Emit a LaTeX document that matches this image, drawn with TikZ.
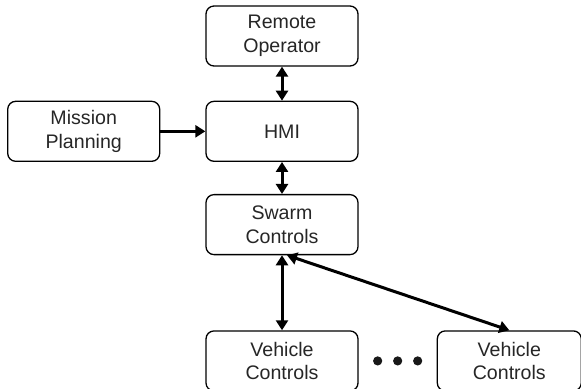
\documentclass[tikz,border=0pt]{standalone}
\usepackage{fontspec}
\setmainfont{Liberation Sans}
\usepackage{tikz}
\usetikzlibrary{arrows.meta,positioning,calc}

\begin{document}
\begin{tikzpicture}[
  node distance=17pt and 22.5pt, >=Triangle,
  block/.style={rectangle, draw, rounded corners=4pt, line width=0.65pt, minimum width=76pt, minimum height=30pt, align=center, text=black!85, font=\fontsize{9.8}{11.8}\selectfont},
  link/.style={line width=1.5pt, >={Triangle[length=5pt,width=6pt]}},
  dot/.style={circle, fill=black!90, inner sep=0pt, minimum size=4.6pt},
]
  \useasboundingbox (0,0) rectangle (290.5pt,-194pt);
  \node[block] (ro) at (141pt,-18pt) {Remote\\Operator};
  \node[block, below=of ro] (hmi) {HMI};
  \node[block, left=of hmi] (mission) {Mission\\Planning};
  \node[block, below=16pt of hmi] (swarm) {Swarm\\Controls};
  \node[block, below=37.5pt of swarm] (vc1) {Vehicle\\Controls};
  \node[block, minimum width=72pt, right=39pt of vc1] (vc2) {Vehicle\\Controls};
  \node[dot] (d2) at ($(vc1.east)!0.5!(vc2.west)$) {};
  \node[dot, left=5pt of d2] (d1) {};
  \node[dot, right=5pt of d2] (d3) {};

  \draw[link, <->] (ro) -- (hmi);
  \draw[link, <->] (hmi) -- (swarm);
  \draw[link, ->] (mission) -- (hmi);
  \draw[link, <->] (swarm) -- (vc1);
  \draw[link, <->] ([xshift=2.5pt]swarm.south) -- (vc2.north);
\end{tikzpicture}
\end{document}
